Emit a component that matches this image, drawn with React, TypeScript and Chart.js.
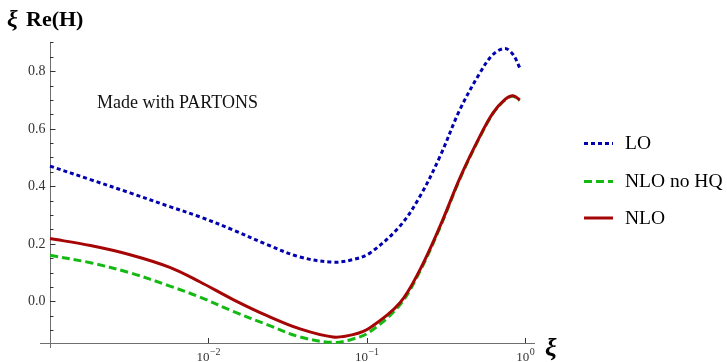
import { useEffect, useRef } from "react";
import { Chart, registerables } from "chart.js";

Chart.register(...registerables);

// ---- data ----
const xi = [0.001, 0.0018, 0.0032, 0.0057, 0.0088, 0.0143, 0.0234, 0.0378, 0.061, 0.0816, 0.1045, 0.161, 0.216, 0.289, 0.386, 0.516, 0.624, 0.743, 0.834, 0.92];
const loValues = [0.47, 0.423, 0.377, 0.329, 0.294, 0.248, 0.197, 0.154, 0.136, 0.145, 0.168, 0.261, 0.365, 0.504, 0.667, 0.794, 0.858, 0.879, 0.858, 0.812];
const nloNoHQValues = [0.16, 0.134, 0.099, 0.053, 0.015, -0.035, -0.081, -0.124, -0.143, -0.131, -0.106, -0.013, 0.105, 0.257, 0.426, 0.572, 0.653, 0.7, 0.713, 0.698];
const nloValues = [0.218, 0.194, 0.162, 0.118, 0.068, 0.006, -0.05, -0.096, -0.124, -0.116, -0.092, -0.006, 0.11, 0.261, 0.429, 0.574, 0.655, 0.702, 0.715, 0.7];

const seriesLabels = ["LO", "NLO no HQ", "NLO"];
const yMajorTicks = [0, 0.2, 0.4, 0.6, 0.8];
const yTickLabels = ["0.0", "0.2", "0.4", "0.6", "0.8"];
const yMinorTicks = [-0.1, -0.05, 0.05, 0.1, 0.15, 0.25, 0.3, 0.35, 0.45, 0.5, 0.55, 0.65, 0.7, 0.75, 0.85, 0.9];
const xMajorTicks = [0.01, 0.1, 1];
const xTickExponents = ["\u22122", "\u22121", "0"];

const SERIF = '"Liberation Serif", "Times New Roman", serif';

const axesPlugin = {
  id: "mmaAxes",
  beforeDatasetsDraw(chart: any) {
    const { ctx } = chart;
    const x = chart.scales.x;
    const y = chart.scales.y;
    const left = x.left;
    const right = x.right;
    const top = y.top;
    const bottom = y.bottom;
    ctx.save();
    ctx.strokeStyle = "#6e6e6e";
    ctx.lineWidth = 1;
    ctx.beginPath();
    ctx.moveTo(left - 10, bottom + 0.5);
    ctx.lineTo(right, bottom + 0.5);
    ctx.moveTo(left + 0.5, top);
    ctx.lineTo(left + 0.5, bottom + 5);
    ctx.stroke();
    ctx.strokeStyle = "#333";
    ctx.beginPath();
    yMajorTicks.forEach((v) => {
      const py = Math.round(y.getPixelForValue(v)) + 0.5;
      ctx.moveTo(left, py);
      ctx.lineTo(left + 5.5, py);
    });
    yMinorTicks.forEach((v) => {
      const py = Math.round(y.getPixelForValue(v)) + 0.5;
      ctx.moveTo(left, py);
      ctx.lineTo(left + 3.5, py);
    });
    xMajorTicks.forEach((v) => {
      const px = Math.round(x.getPixelForValue(v)) + 0.5;
      ctx.moveTo(px, bottom);
      ctx.lineTo(px, bottom - 5);
    });
    ctx.stroke();
    ctx.fillStyle = "#333";
    ctx.font = `14px ${SERIF}`;
    ctx.textAlign = "right";
    ctx.textBaseline = "middle";
    yMajorTicks.forEach((v, i) => {
      ctx.fillText(yTickLabels[i], left - 4.5, y.getPixelForValue(v) + 0.5);
    });
    ctx.textAlign = "left";
    ctx.textBaseline = "alphabetic";
    xMajorTicks.forEach((v, i) => {
      const px = x.getPixelForValue(v);
      ctx.font = `13px ${SERIF}`;
      const wb = ctx.measureText("10").width;
      ctx.font = `10px ${SERIF}`;
      const we = ctx.measureText(xTickExponents[i]).width;
      const start = px - (wb + we + 0.5) / 2;
      ctx.font = `13px ${SERIF}`;
      ctx.fillText("10", start, 361);
      ctx.font = `10px ${SERIF}`;
      ctx.fillText(xTickExponents[i], start + wb + 0.5, 355);
    });
    ctx.restore();
  },
  afterDraw(chart: any) {
    const { ctx } = chart;
    ctx.save();
    ctx.fillStyle = "#000";
    ctx.textAlign = "left";
    ctx.textBaseline = "alphabetic";
    ctx.font = `italic bold 24px ${SERIF}`;
    ctx.fillText("\u03be", 7, 26);
    ctx.font = `bold 22px ${SERIF}`;
    ctx.fillText("Re(H)", 26, 26);
    ctx.font = `italic bold 26px ${SERIF}`;
    ctx.fillText("\u03be", 545, 356);
    ctx.font = `18px ${SERIF}`;
    ctx.fillStyle = "#111";
    ctx.fillText("Made with PARTONS", 97, 108);
    const legendY = [143.5, 181.5, 218];
    [0, 1, 2].forEach((idx, i) => {
      const ds = chart.data.datasets[idx];
      ctx.save();
      ctx.strokeStyle = ds.borderColor;
      ctx.lineWidth = ds.borderWidth;
      ctx.setLineDash(ds.borderDash || []);
      ctx.beginPath();
      ctx.moveTo(584, legendY[i]);
      ctx.lineTo(613, legendY[i]);
      ctx.stroke();
      ctx.restore();
      ctx.fillStyle = "#000";
      ctx.font = `19.5px ${SERIF}`;
      ctx.textBaseline = "middle";
      ctx.fillText(ds.label, 625, legendY[i] + 0.5);
    });
    ctx.restore();
  },
};

function toPoints(vals: number[]) {
  return xi.map((v, i) => ({ x: v, y: vals[i] }));
}

export default function App() {
  const canvasRef = useRef<HTMLCanvasElement | null>(null);

  useEffect(() => {
    if (!canvasRef.current) return;
    const common = { borderWidth: 3, pointRadius: 0, tension: 0.35, fill: false, clip: false };
    const chart = new Chart(canvasRef.current, {
      type: "line",
      data: {
        datasets: [
          { ...common, label: seriesLabels[0], data: toPoints(loValues), borderColor: "rgb(0,0,175)", borderDash: [4, 3], order: 2 },
          { ...common, label: seriesLabels[1], data: toPoints(nloNoHQValues), borderColor: "rgb(20,185,20)", borderDash: [8, 4], order: 1 },
          { ...common, label: seriesLabels[2], data: toPoints(nloValues), borderColor: "rgb(165,5,5)", order: 0 },
        ],
      } as any,
      options: {
        responsive: false,
        animation: false,
        devicePixelRatio: 1,
        layout: { padding: { left: 50, top: 43, right: 192, bottom: 19 } },
        plugins: { legend: { display: false }, tooltip: { enabled: false } },
        events: [],
        scales: {
          x: { type: "logarithmic", min: 0.001, max: 1.148, display: false },
          y: { type: "linear", min: -0.145, max: 0.898, display: false },
        },
      } as any,
      plugins: [axesPlugin],
    });
    return () => chart.destroy();
  }, []);

  return (
    <div style={{ position: "fixed", left: 0, top: 0, width: 727, height: 362, background: "#fff" }}>
      <canvas ref={canvasRef} width={727} height={362} />
    </div>
  );
}
